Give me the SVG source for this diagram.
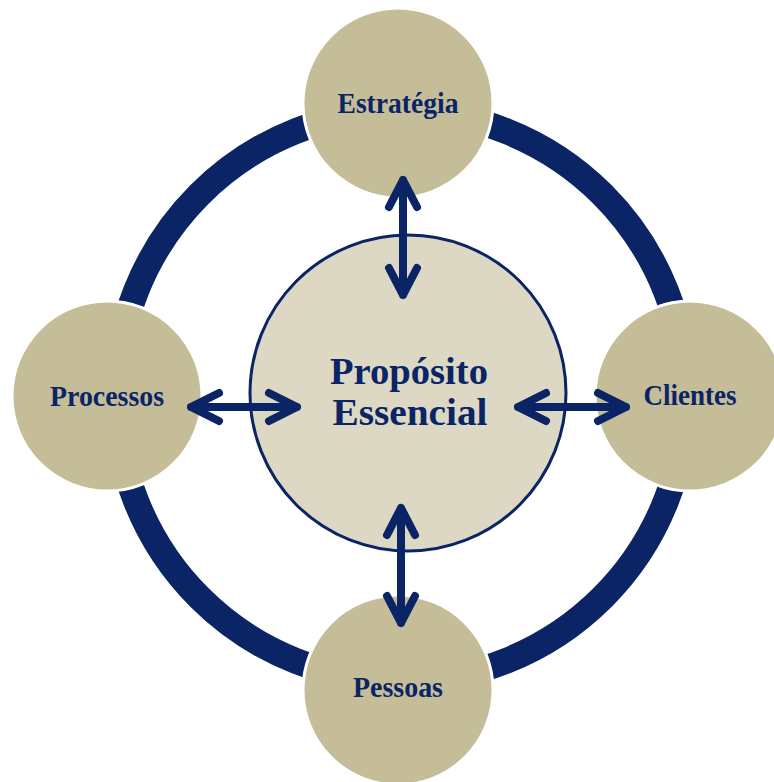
<svg xmlns="http://www.w3.org/2000/svg" width="774" height="782" viewBox="0 0 774 782">
<defs>
<style>
.ring{fill:none;stroke:#0a2466;stroke-width:26}
.node{fill:#c4bd97;stroke:#ffffff;stroke-width:3}
.core{fill:#ddd8c3;stroke:#0a2466;stroke-width:3}
.lbl{font-family:"Liberation Serif","Times New Roman",serif;font-weight:bold;fill:#0a2466;text-anchor:middle}
.sm{font-size:29px}
.big{font-size:37px}
.arr{fill:none;stroke:#0a2466;stroke-width:8;stroke-linecap:round;stroke-linejoin:round}
</style>
</defs>
<rect width="774" height="782" fill="#ffffff"/>
<g id="ring"><circle class="ring" cx="401" cy="396" r="285"/></g>
<g id="node-estrategia"><circle class="node" cx="398" cy="103" r="95"/><text class="lbl sm" x="398" y="113" textLength="121" lengthAdjust="spacingAndGlyphs">Estratégia</text></g>
<g id="node-processos"><circle class="node" cx="107" cy="396" r="95"/><text class="lbl sm" x="107" y="406" textLength="114" lengthAdjust="spacingAndGlyphs">Processos</text></g>
<g id="node-clientes"><circle class="node" cx="690" cy="396" r="95"/><text class="lbl sm" x="690" y="405" textLength="93" lengthAdjust="spacingAndGlyphs">Clientes</text></g>
<g id="node-pessoas"><circle class="node" cx="398" cy="690" r="95"/><text class="lbl sm" x="398" y="697" textLength="90" lengthAdjust="spacingAndGlyphs">Pessoas</text></g>
<g id="node-core"><circle class="core" cx="408" cy="393" r="158"/><text class="lbl big" x="409" y="384" textLength="158" lengthAdjust="spacingAndGlyphs">Propósito</text><text class="lbl big" x="410" y="425" textLength="155" lengthAdjust="spacingAndGlyphs">Essencial</text></g>
<g id="connectors">
<path class="arr" d="M403 180V295M389 207L403 180L417 207M389 268L403 295L417 268"/>
<path class="arr" d="M401 508V623M387 535L401 508L415 535M387 596L401 623L415 596"/>
<path class="arr" d="M191 407H297M219 393L191 407L219 421M269 393L297 407L269 421"/>
<path class="arr" d="M518 407H626M546 393L518 407L546 421M598 393L626 407L598 421"/>
</g>
</svg>
